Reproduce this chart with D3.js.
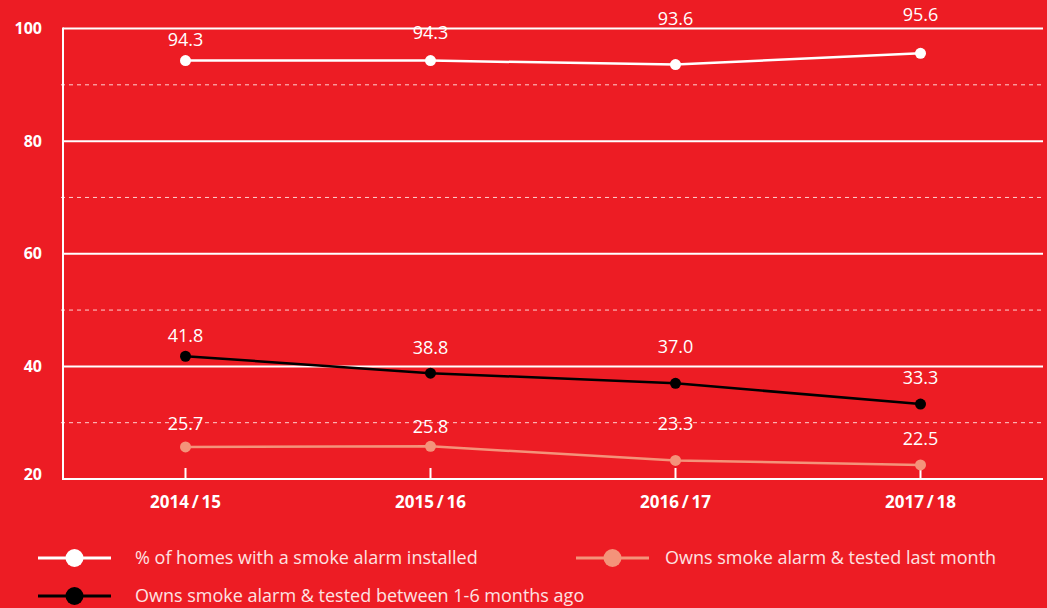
<!DOCTYPE html>
<html>
<head>
<meta charset="utf-8">
<script src="https://cdn.jsdelivr.net/npm/d3@7"></script>
<style>
  html, body { margin: 0; padding: 0; background: #ED1C24; }
  svg { display: block; }
  text { font-family: "Open Sans", "Noto Sans", sans-serif; }
</style>
</head>
<body>
<svg id="chart" width="1047" height="608"></svg>
<script>
// ---- data ----
const categories = ["2014/15", "2015/16", "2016/17", "2017/18"];
const installed = [94.3, 94.3, 93.6, 95.6];
const testedLastMonth = [25.7, 25.8, 23.3, 22.5];
const tested1to6 = [41.8, 38.8, 37.0, 33.3];
const yTicks = [20, 40, 60, 80, 100];
const yMinorTicks = [30, 50, 70, 90];
const seriesNames = [
  "% of homes with a smoke alarm installed",
  "Owns smoke alarm & tested last month",
  "Owns smoke alarm & tested between 1-6 months ago"
];

// ---- styling / layout (not data) ----
const labelOffsets = {
  installed: [-21, -28, -46, -39],
  testedLastMonth: [-23, -20, -37, -26],
  tested1to6: [-21, -25, -37, -26]
};
const colors = { installed: "#ffffff", testedLastMonth: "#F4937A", tested1to6: "#000000" };

const svg = d3.select("#chart");
const margin = { left: 63, right: 4, top: 28.5, bottom: 129 };
const W = 1047, H = 608;
const x = d3.scaleBand().domain(categories).range([margin.left, W - margin.right]);
const xc = d => x(d) + x.bandwidth() / 2;
const y = d3.scaleLinear().domain([20, 100]).range([H - margin.bottom, margin.top]);

// dashed minor gridlines
svg.append("g").selectAll("line").data(yMinorTicks).join("line")
  .attr("x1", margin.left - 2).attr("x2", W - margin.right)
  .attr("y1", d => y(d)).attr("y2", d => y(d))
  .attr("stroke", "#ffd0d0").attr("stroke-width", 1)
  .attr("stroke-dasharray", "4,4");

// solid major gridlines
svg.append("g").selectAll("line").data(yTicks).join("line")
  .attr("x1", margin.left).attr("x2", W - margin.right)
  .attr("y1", d => y(d)).attr("y2", d => y(d))
  .attr("stroke", "#ffffff").attr("stroke-width", 2);

// left axis line
svg.append("line")
  .attr("x1", margin.left).attr("x2", margin.left)
  .attr("y1", y(100) - 1).attr("y2", y(20) + 1)
  .attr("stroke", "#fff").attr("stroke-width", 2);

// y tick labels
svg.append("g").selectAll("text").data(yTicks).join("text")
  .attr("x", 42).attr("y", d => y(d) + (d === 20 ? -5 : 0))
  .attr("dy", "0.35em").attr("text-anchor", "end")
  .attr("fill", "#fff").attr("font-weight", 700).attr("font-size", 16)
  .text(d => d);

// x ticks
svg.append("g").selectAll("line").data(categories).join("line")
  .attr("x1", d => xc(d)).attr("x2", d => xc(d))
  .attr("y1", y(20)).attr("y2", y(20) - 11)
  .attr("stroke", "#fff").attr("stroke-width", 2);

svg.append("g").selectAll("text").data(categories).join("text")
  .attr("x", d => xc(d)).attr("y", 502).attr("dy", "0.35em")
  .attr("text-anchor", "middle").attr("fill", "#fff")
  .attr("font-weight", 700).attr("font-size", 17)
  .text(d => d.replace("/", "\u2009/\u2009"));

// series
const series = [
  { key: "testedLastMonth", values: testedLastMonth },
  { key: "tested1to6", values: tested1to6 },
  { key: "installed", values: installed }
];
const line = d3.line().x((d, i) => xc(categories[i])).y(d => y(d));

series.forEach(s => {
  const g = svg.append("g");
  g.append("path").datum(s.values)
    .attr("d", line).attr("fill", "none")
    .attr("stroke", colors[s.key]).attr("stroke-width", 2.5);
  g.selectAll("circle").data(s.values).join("circle")
    .attr("cx", (d, i) => xc(categories[i])).attr("cy", d => y(d))
    .attr("r", 5.5).attr("fill", colors[s.key]);
  g.selectAll("text").data(s.values).join("text")
    .attr("x", (d, i) => xc(categories[i]))
    .attr("y", (d, i) => y(d) + labelOffsets[s.key][i])
    .attr("dy", "0.35em").attr("text-anchor", "middle")
    .attr("fill", "#fff").attr("font-size", 18)
    .text(d => d.toFixed(1));
});

// legend
const legendItems = [
  { name: seriesNames[0], key: "installed", lx: 38, ly: 558, tx: 135 },
  { name: seriesNames[1], key: "testedLastMonth", lx: 576, ly: 558, tx: 665 },
  { name: seriesNames[2], key: "tested1to6", lx: 38, ly: 596, tx: 135 }
];
const lg = svg.append("g");
legendItems.forEach(it => {
  const g = lg.append("g");
  g.append("line").attr("x1", it.lx).attr("x2", it.lx + 73)
    .attr("y1", it.ly).attr("y2", it.ly)
    .attr("stroke", colors[it.key]).attr("stroke-width", 3);
  g.append("circle").attr("cx", it.lx + 36.5).attr("cy", it.ly).attr("r", 9)
    .attr("fill", colors[it.key]);
  g.append("text").attr("x", it.tx).attr("y", it.ly).attr("dy", "0.35em")
    .attr("fill", "#fde2e2").attr("font-size", 18)
    .text(it.name);
});
</script>
</body>
</html>
